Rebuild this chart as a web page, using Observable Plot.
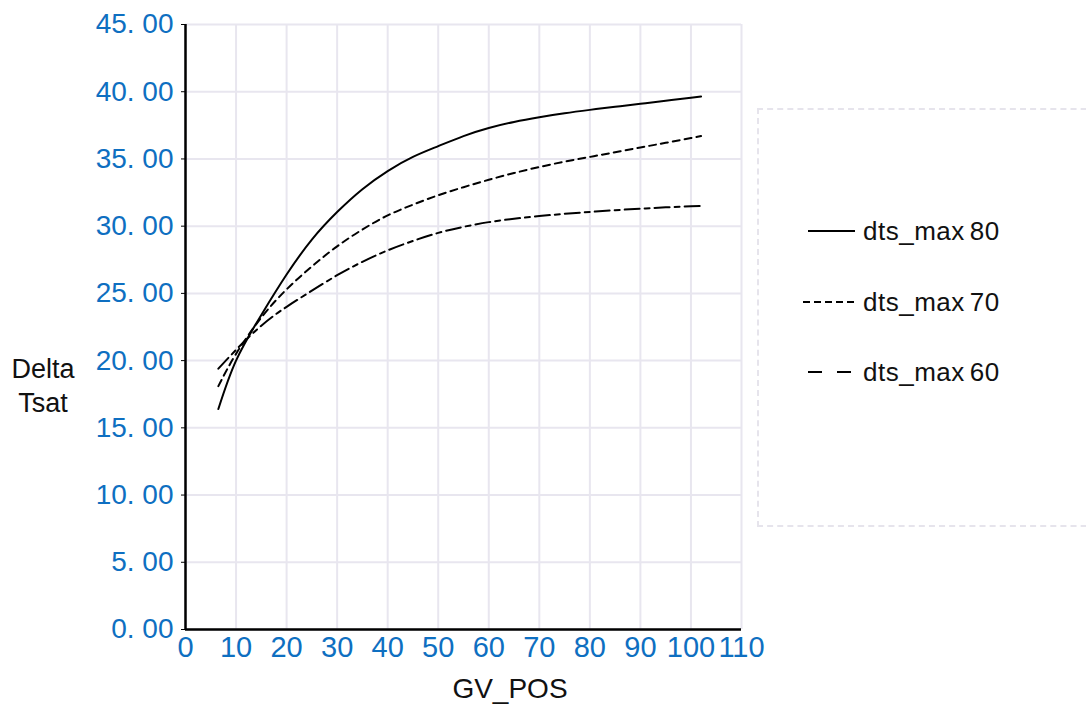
<!DOCTYPE html>
<html><head><meta charset="utf-8">
<script src="https://cdn.jsdelivr.net/npm/d3@7"></script>
<script src="https://cdn.jsdelivr.net/npm/@observablehq/plot@0.6"></script>
<style>
body{margin:0;background:#fff;font-family:"Liberation Sans",Arial,sans-serif;}
#wrap{position:relative;width:1086px;height:707px;overflow:hidden;background:#fff;}
#wrap svg.plot{position:absolute;left:0;top:0;}
.lbl{position:absolute;color:#111;font-family:"Liberation Sans",Arial,sans-serif;}
#legendBox{position:absolute;left:757px;top:108px;width:360px;height:419px;border:2px dashed #e6e4ec;box-sizing:border-box;}
.leg{position:absolute;left:803px;height:40px;display:flex;align-items:center;font-size:26px;color:#111;letter-spacing:0.5px;}
.leg svg{margin-right:8px;}
.leg .num{margin-left:5px;}
</style></head><body><div id="wrap"></div>
<script>
const seriesNames = ["dts_max80", "dts_max70", "dts_max60"];
const gvPos = [6.5, 10, 15, 20, 25, 30, 35, 40, 45, 50, 55, 60, 65, 70, 75, 80, 85, 90, 95, 100, 102];
const dtsMax80 = [16.4, 20.0, 23.4, 26.4, 29.0, 31.05, 32.75, 34.1, 35.15, 35.95, 36.7, 37.3, 37.75, 38.1, 38.4, 38.65, 38.88, 39.1, 39.33, 39.56, 39.65];
const dtsMax70 = [18.1, 20.5, 23.2, 25.3, 27.0, 28.5, 29.75, 30.8, 31.6, 32.3, 32.9, 33.45, 33.95, 34.4, 34.8, 35.15, 35.5, 35.85, 36.2, 36.55, 36.7];
const dtsMax60 = [19.4, 20.8, 22.6, 24.0, 25.2, 26.35, 27.35, 28.2, 28.9, 29.5, 29.95, 30.3, 30.55, 30.75, 30.92, 31.06, 31.19, 31.3, 31.4, 31.48, 31.5];
const xTicks = [0, 10, 20, 30, 40, 50, 60, 70, 80, 90, 100, 110];
const yTicks = [0, 5, 10, 15, 20, 25, 30, 35, 40, 45];
const dashes = [null, "7,5", "15,5,5,5"];

const seriesValues = [dtsMax80, dtsMax70, dtsMax60];
const rows = seriesNames.map((s, i) => gvPos.map((x, j) => ({series: s, x, y: seriesValues[i][j]})));

const blue = "#0e6fc1";
const grid = "#e8e6ef";

const chart = Plot.plot({
  width: 1086,
  height: 707,
  marginLeft: 185,
  marginRight: 345,
  marginTop: 24,
  marginBottom: 78,
  style: {fontFamily: "Liberation Sans, Arial, sans-serif", background: "transparent", overflow: "visible"},
  x: {domain: [0, 110], axis: null},
  y: {domain: [0, 45], axis: null},
  marks: [
    Plot.gridX(xTicks, {stroke: grid, strokeOpacity: 1, strokeWidth: 2}),
    Plot.gridY(yTicks, {stroke: grid, strokeOpacity: 1, strokeWidth: 2}),
    Plot.axisY(yTicks, {tickFormat: d => d.toFixed(2).replace(".", ". "), fontSize: 28, fill: blue, tickSize: 4, stroke: "#000", tickPadding: 8, label: null}),
    Plot.axisX(xTicks, {tickFormat: d => String(d), fontSize: 29, fill: blue, tickSize: 0, tickPadding: 7, label: null}),
    ...rows.map((r, i) => Plot.line(r, {x: "x", y: "y", stroke: "#000", strokeWidth: 2, curve: "natural", strokeDasharray: dashes[i] || undefined})),
    Plot.ruleX([0], {stroke: "#000", strokeWidth: 2.5}),
    Plot.ruleY([0], {stroke: "#000", strokeWidth: 2.5})
  ]
});
chart.classList.add("plot");
const wrap = document.getElementById("wrap");
wrap.appendChild(chart);

// axis titles
const yl = document.createElement("div");
yl.className = "lbl";
yl.style.cssText += "left:-7px;top:352px;width:100px;text-align:center;font-size:27px;line-height:34px;";
yl.innerHTML = "Delta<br>Tsat";
wrap.appendChild(yl);

const xl = document.createElement("div");
xl.className = "lbl";
xl.style.cssText += "left:410px;top:673px;width:200px;text-align:center;font-size:28px;";
xl.textContent = "GV_POS";
wrap.appendChild(xl);

// legend
const box = document.createElement("div");
box.id = "legendBox";
wrap.appendChild(box);
const legTops = [211, 282, 352];
seriesNames.forEach((s, i) => {
  const d = document.createElement("div");
  d.className = "leg";
  d.style.top = legTops[i] + "px";
  const dash = i === 0 ? "" : (i === 1 ? 'stroke-dasharray="7,4"' : 'stroke-dasharray="14,15"');
  const x1 = i === 1 ? 0 : 5;
  const m = s.match(/^(\D+)(\d+)$/);
  d.innerHTML = `<svg width="52" height="10"><line x1="${x1}" y1="5" x2="${i === 2 ? 48 : 52}" y2="5" stroke="#000" stroke-width="2" ${dash}/></svg><span>${m[1]}</span><span class="num">${m[2]}</span>`;
  wrap.appendChild(d);
});
</script>
</body></html>
